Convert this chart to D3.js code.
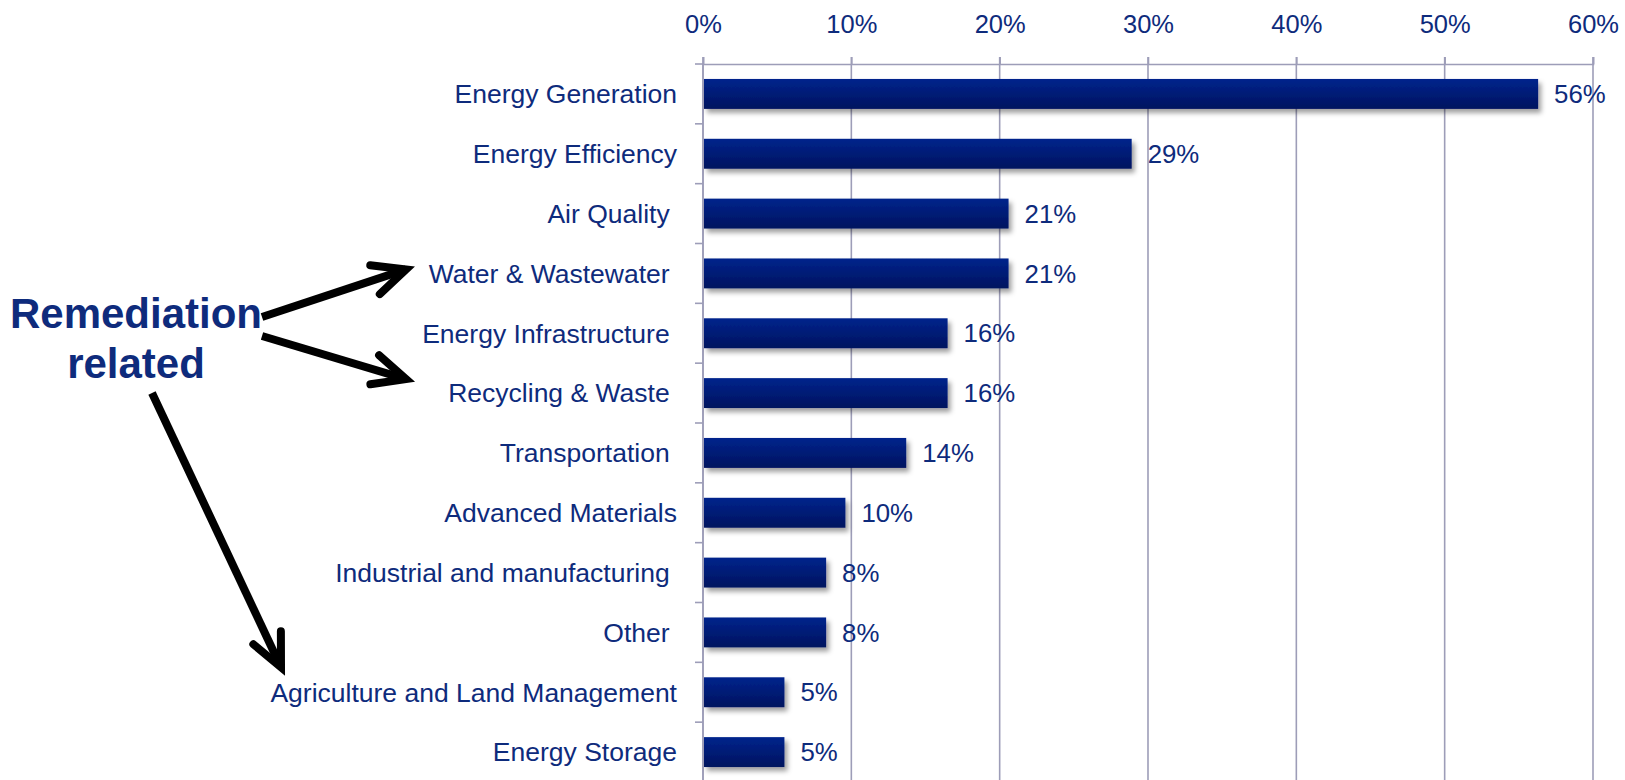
<!DOCTYPE html>
<html>
<head>
<meta charset="utf-8">
<script src="https://cdn.jsdelivr.net/npm/d3@7"></script>
<style>
  html, body { margin: 0; padding: 0; background: #fff; }
  svg { display: block; font-family: "Liberation Sans", Arial, sans-serif; }
  .cat { white-space: pre; }
</style>
</head>
<body>
<svg id="chart" width="1625" height="780"></svg>
<script>
// Share of projects by technology area
const categories = [
  "Energy Generation",
  "Energy Efficiency",
  "Air Quality ",
  "Water & Wastewater ",
  "Energy Infrastructure ",
  "Recycling & Waste ",
  "Transportation ",
  "Advanced Materials",
  "Industrial and manufacturing ",
  "Other ",
  "Agriculture and Land Management",
  "Energy Storage"
];
const shares = [0.563, 0.289, 0.206, 0.206, 0.1649, 0.1649, 0.137, 0.096, 0.083, 0.083, 0.0549, 0.0549];
const xTicks = [0, 0.1, 0.2, 0.3, 0.4, 0.5, 0.6];
const calloutLines = ["Remediation", "related"];
// categories the callout arrows point at
const calloutTargets = ["Water & Wastewater ", "Recycling & Waste ", "Agriculture and Land Management"];

const navy = "#0e2b7c";
const gridColor = "#9d9db8";

const svg = d3.select("#chart");
const pct = d3.format(".0%");

const x = d3.scaleLinear().domain([0, 0.6]).range([703, 1593]);
const y = d3.scaleBand().domain(categories).range([64, 782]).paddingInner(0.5).paddingOuter(0.25);

// defs: bar gradient + soft shadow
const defs = svg.append("defs");
const grad = defs.append("linearGradient").attr("id", "barGrad").attr("x1", 0).attr("y1", 0).attr("x2", 0).attr("y2", 1);
grad.append("stop").attr("offset", "0%").attr("stop-color", "#00248c");
grad.append("stop").attr("offset", "100%").attr("stop-color", "#00135f");
const sh = defs.append("filter").attr("id", "shadow").attr("x", "-5%").attr("y", "-30%").attr("width", "115%").attr("height", "180%");
sh.append("feDropShadow").attr("dx", 3).attr("dy", 4).attr("stdDeviation", 2.6)
  .attr("flood-color", "#000").attr("flood-opacity", 0.38);

// vertical gridlines
svg.append("g").selectAll("line").data(xTicks).join("line")
  .attr("x1", d => x(d)).attr("x2", d => x(d))
  .attr("y1", 57).attr("y2", 782)
  .attr("stroke", gridColor).attr("stroke-width", 1.6);

// top value axis
const xAxis = svg.append("g").attr("transform", "translate(0,64)")
  .call(d3.axisTop(x).tickValues(xTicks).tickFormat(pct).tickSize(7).tickPadding(24));
xAxis.select(".domain").attr("stroke", gridColor).attr("stroke-width", 1.6);
xAxis.selectAll(".tick line").attr("stroke", gridColor).attr("stroke-width", 1.6);
xAxis.selectAll(".tick text").attr("fill", navy).attr("font-size", 25.5)
  .attr("font-family", "'Liberation Sans', Arial, sans-serif");

// category axis line and band ticks
const step = y.step();
const bounds = d3.range(categories.length + 1).map(i => y.range()[0] + i * step);
svg.append("line").attr("x1", x(0)).attr("x2", x(0)).attr("y1", 64).attr("y2", 782)
  .attr("stroke", gridColor).attr("stroke-width", 1.6);
svg.append("g").selectAll("line").data(bounds).join("line")
  .attr("x1", x(0) - 8).attr("x2", x(0)).attr("y1", d => d).attr("y2", d => d)
  .attr("stroke", gridColor).attr("stroke-width", 1.6);

// bars
svg.append("g").selectAll("rect").data(shares).join("rect")
  .attr("x", x(0) + 1)
  .attr("y", (d, i) => y(categories[i]))
  .attr("width", d => x(d) - x(0) - 1)
  .attr("height", y.bandwidth())
  .attr("fill", "url(#barGrad)")
  .attr("filter", "url(#shadow)");

// category labels
svg.append("g").selectAll("text").data(categories).join("text")
  .attr("class", "cat")
  .attr("x", x(0) - 26)
  .attr("y", d => y(d) + y.bandwidth() / 2 + 9.4)
  .attr("text-anchor", "end")
  .attr("font-size", 26.5)
  .attr("fill", navy)
  .text(d => d);

// value labels
svg.append("g").selectAll("text").data(shares).join("text")
  .attr("x", d => x(d) + 16)
  .attr("y", (d, i) => y(categories[i]) + y.bandwidth() / 2 + 9.2)
  .attr("font-size", 25.8)
  .attr("fill", navy)
  .text(d => pct(d));

// callout text
svg.append("g").selectAll("text").data(calloutLines).join("text")
  .attr("x", 136)
  .attr("y", (d, i) => 328 + i * 50)
  .attr("text-anchor", "middle")
  .attr("font-size", 42)
  .attr("font-weight", "bold")
  .attr("fill", navy)
  .text(d => d);

// callout arrows
const cy = c => y(c) + y.bandwidth() / 2;
const arrows = [
  { from: [262, 317], to: [406, cy(calloutTargets[0]) - 4] },
  { from: [262, 336], to: [406, cy(calloutTargets[1]) - 14] },
  { from: [152, 393], to: [281, cy(calloutTargets[2]) - 25] }
];
const headLen = 36, headAng = 25 * Math.PI / 180;
const ag = svg.append("g").attr("fill", "none").attr("stroke", "#000").attr("stroke-width", 8);
arrows.forEach(a => {
  const [x0, y0] = a.from, [x1, y1] = a.to;
  const back = Math.atan2(y0 - y1, x0 - x1);
  ag.append("line").attr("x1", x0).attr("y1", y0).attr("x2", x1).attr("y2", y1)
    .attr("stroke-linecap", "butt");
  const p1 = [x1 + headLen * Math.cos(back + headAng), y1 + headLen * Math.sin(back + headAng)];
  const p2 = [x1 + headLen * Math.cos(back - headAng), y1 + headLen * Math.sin(back - headAng)];
  ag.append("path").attr("d", d3.line()([p1, [x1, y1], p2]))
    .attr("stroke-linecap", "round").attr("stroke-linejoin", "miter").attr("stroke-miterlimit", 10);
});
</script>
</body>
</html>
